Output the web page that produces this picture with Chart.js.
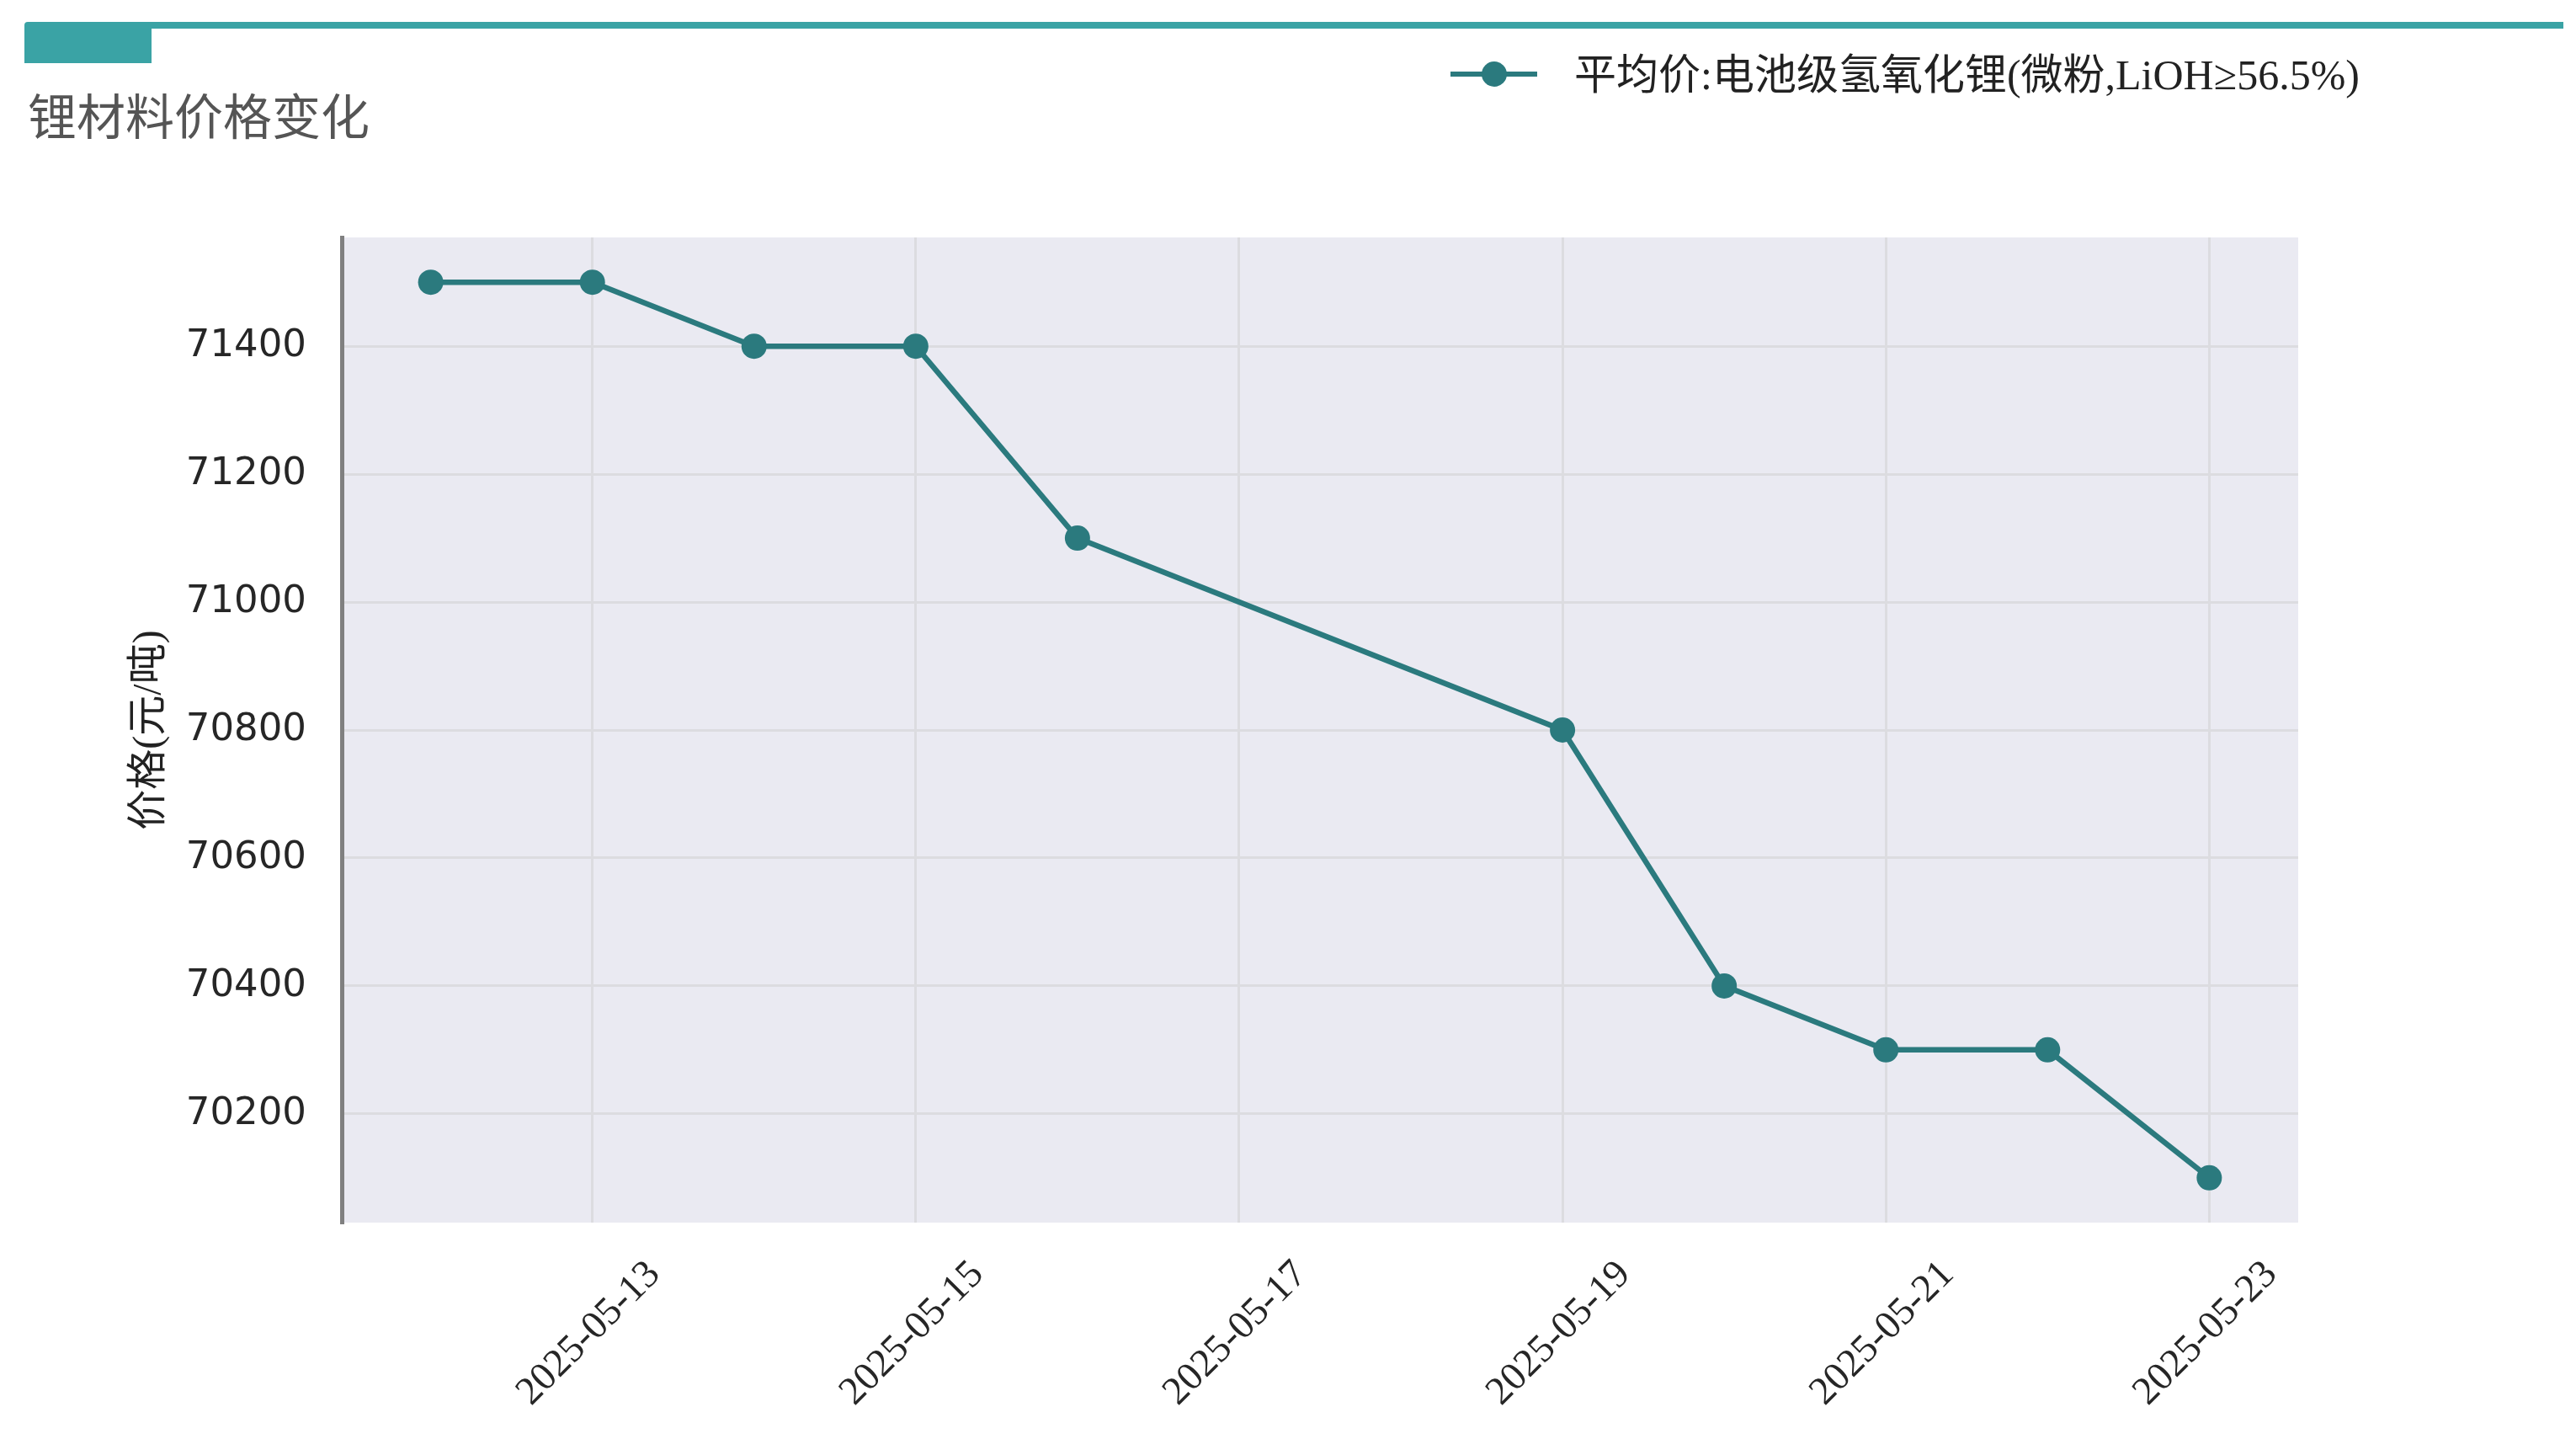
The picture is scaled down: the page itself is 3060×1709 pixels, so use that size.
<!DOCTYPE html>
<html>
<head>
<meta charset="utf-8">
<script src="https://cdn.jsdelivr.net/npm/chart.js@4.4.1/dist/chart.umd.min.js"></script>
<style>
  body { margin: 0; width: 3060px; height: 1709px; overflow: hidden; background: #fff; position: relative; }
  #chart { position: absolute; left: 0; top: 0; }
  .topline { position: absolute; left: 29px; top: 26px; width: 3016px; height: 8px; background: #3AA3A5; border-radius: 4px 0 0 0; }
  .topblock { position: absolute; left: 29px; top: 34px; width: 151px; height: 41px; background: #3AA3A5; }
  .title { position: absolute; left: 33px; top: 106px; font: 58px/58px "Noto Sans CJK SC"; color: #555; white-space: nowrap; }
  #legend { position: absolute; left: 1723px; top: 64px; height: 48px; white-space: nowrap; }
  #legend .ln { position: absolute; left: 0; top: 21px; width: 103px; height: 6px; }
  #legend .dot { position: absolute; left: 37px; top: 9px; width: 30px; height: 30px; border-radius: 50%; }
  #legend .txt { position: absolute; left: 147px; top: -2px; font: 50px/54px "Liberation Serif", "Noto Sans CJK SC"; color: #222; }
</style>
</head>
<body>
<div class="topline"></div>
<div class="topblock"></div>
<div class="title">锂材料价格变化</div>
<div id="legend"></div>
<canvas id="chart" width="3060" height="1709"></canvas>
<script>
'use strict';

const seriesName = '平均价:电池级氢氧化锂(微粉,LiOH≥56.5%)';
const dates = ['2025-05-12', '2025-05-13', '2025-05-14', '2025-05-15', '2025-05-16',
  '2025-05-19', '2025-05-20', '2025-05-21', '2025-05-22', '2025-05-23'];
const prices = [71500, 71500, 71400, 71400, 71100, 70800, 70400, 70300, 70300, 70100];
const xTickLabels = ['2025-05-13', '2025-05-15', '2025-05-17', '2025-05-19', '2025-05-21', '2025-05-23'];
const yTickValues = [70200, 70400, 70600, 70800, 71000, 71200, 71400];
const yTitle = '价格(元/吨)';
const lineColor = '#2B7A7E';

const DAY = 86400000;
const t0 = Date.parse(dates[0]);
function dayIndex(d) { return (Date.parse(d) - t0) / DAY; }

let points = dates.map((d, i) => ({ x: dayIndex(d), y: prices[i] }));
let xLo = dayIndex(dates[0]), xHi = dayIndex(dates[dates.length - 1]);
let yLo = Math.min(...prices), yHi = Math.max(...prices);
let xPad = (xHi - xLo) * 0.05, yPad = (yHi - yLo) * 0.05;

// legend
let legend = document.getElementById('legend');
legend.innerHTML = '<div class="ln" style="background:' + lineColor + '"></div>' +
  '<div class="dot" style="background:' + lineColor + '"></div>' +
  '<div class="txt"></div>';
legend.querySelector('.txt').textContent = seriesName;

const plotBg = {
  id: 'plotBg',
  beforeDraw(chart) {
    const a = chart.chartArea;
    const ctx = chart.ctx;
    ctx.save();
    ctx.fillStyle = '#EAEAF2';
    ctx.fillRect(a.left, a.top, a.right - a.left, a.bottom - a.top);
    ctx.restore();
  }
};

// rotated date labels centred under their ticks
const dateLabels = {
  id: 'dateLabels',
  afterDraw(chart) {
    const sx = chart.scales.x;
    const ctx = chart.ctx;
    ctx.save();
    ctx.font = '47px "Liberation Serif"';
    ctx.fillStyle = '#262626';
    ctx.textAlign = 'center';
    ctx.textBaseline = 'middle';
    xTickLabels.forEach(lbl => {
      const px = sx.getPixelForValue(dayIndex(lbl));
      ctx.save();
      ctx.translate(px - 4, chart.chartArea.bottom + 132);
      ctx.rotate(-Math.PI / 4);
      ctx.fillText(lbl, 0, 0);
      ctx.restore();
    });
    ctx.restore();
  }
};

let ctx = document.getElementById('chart').getContext('2d');
const myChart = new Chart(ctx, {
  type: 'line',
  data: {
    datasets: [{
      label: seriesName,
      data: points,
      borderColor: lineColor,
      backgroundColor: lineColor,
      borderWidth: 6.5,
      pointRadius: 15,
      pointHoverRadius: 15,
      pointBorderWidth: 0,
      pointBackgroundColor: lineColor,
      tension: 0,
      fill: false
    }]
  },
  options: {
    responsive: false,
    devicePixelRatio: 1,
    animation: false,
    layout: { padding: { left: 0, top: 282, right: 330, bottom: 257 } },
    plugins: { legend: { display: false }, tooltip: { enabled: false } },
    scales: {
      x: {
        type: 'linear',
        min: xLo - xPad,
        max: xHi + xPad,
        afterBuildTicks(scale) {
          scale.ticks = xTickLabels.map(l => ({ value: dayIndex(l) }));
        },
        afterFit(scale) { scale.height = 0; },
        ticks: { display: false },
        grid: { color: '#DCDCE0', lineWidth: 3, drawTicks: false },
        border: { display: false }
      },
      y: {
        min: yLo - yPad,
        max: yHi + yPad,
        afterBuildTicks(scale) {
          scale.ticks = yTickValues.map(v => ({ value: v }));
        },
        afterFit(scale) { scale.width = 406; },
        ticks: {
          padding: 42,
          color: '#262626',
          font: { family: 'DejaVu Sans', size: 45 },
          callback: v => String(v)
        },
        grid: { color: '#DCDCE0', lineWidth: 3, drawTicks: false },
        border: { display: true, color: '#808080', width: 5 },
        title: {
          display: true,
          text: yTitle,
          color: '#222',
          font: { family: '"Liberation Serif", "Noto Sans CJK SC"', size: 48 },
          padding: { top: 150, bottom: 0 }
        }
      }
    }
  },
  plugins: [plotBg, dateLabels]
});
</script>
</body>
</html>
